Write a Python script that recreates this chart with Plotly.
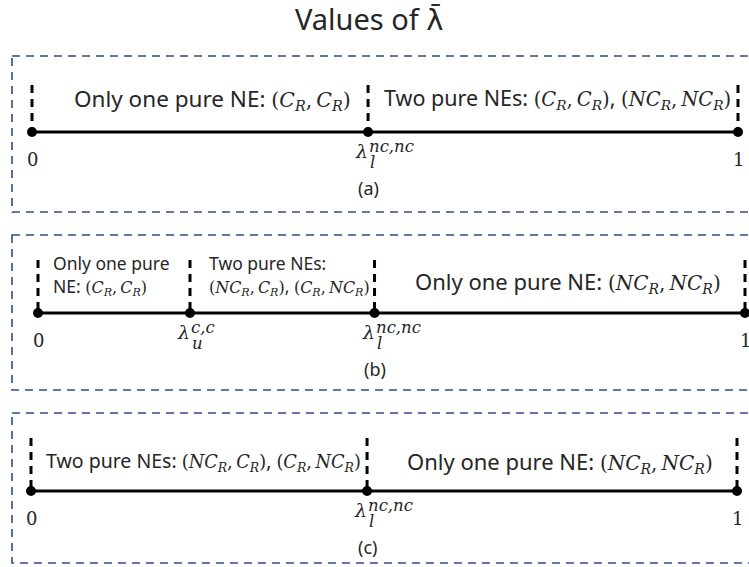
import plotly.graph_objects as go

W, H = 749, 567

# ---------------------------------------------------------------- data
# thresholds of lambda-bar on the unit interval
LAMBDA_U_CC = 0.215
LAMBDA_L_NCNC = 0.476

breaks_a = [0.0, LAMBDA_L_NCNC, 1.0]
breaks_b = [0.0, LAMBDA_U_CC, LAMBDA_L_NCNC, 1.0]
breaks_c = [0.0, LAMBDA_L_NCNC, 1.0]

# tick labels: (symbol, subscript, superscript)
ticks_a = [("0", "", ""), ("λ", "l", "nc,nc"), ("1", "", "")]
ticks_b = [("0", "", ""), ("λ", "u", "c,c"), ("λ", "l", "nc,nc"), ("1", "", "")]
ticks_c = [("0", "", ""), ("λ", "l", "nc,nc"), ("1", "", "")]

panel_tags = ["(a)", "(b)", "(c)"]

MATH = "DejaVu Serif"
SANS = "Noto Sans"

title_text = ("Values of <span style='font-family:DejaVu Sans'>λ\u0304</span>")


def strat(s):
    return f"<i>{s}</i><sub><i>R</i></sub>"


def profile(p, q):
    return (f"<span style='font-family:{MATH};font-size:91%'>"
            f"({strat(p)},\u2009{strat(q)})</span>")


regions_a = [
    "Only one pure NE: " + profile("C", "C"),
    "Two pure NEs: " + profile("C", "C") + ", " + profile("NC", "NC"),
]
regions_b = [
    "Only one pure<br>NE: " + profile("C", "C"),
    "Two pure NEs:<br>" + profile("NC", "C") + ", " + profile("C", "NC"),
    "Only one pure NE: " + profile("NC", "NC"),
]
regions_c = [
    "Two pure NEs: " + profile("NC", "C") + ", " + profile("C", "NC"),
    "Only one pure NE: " + profile("NC", "NC"),
]

# ---------------------------------------------------------------- layout
panels = [
    dict(breaks=breaks_a, ticks=ticks_a, regions=regions_a, tag=panel_tags[0],
         px=(32, 738), line_y=132, seg_top=85, box=(56, 212),
         text_dy=-34, text_size=21.5,
         text_style=[dict(xshift=12, size=22.5), dict(xshift=4)]),
    dict(breaks=breaks_b, ticks=ticks_b, regions=regions_b, tag=panel_tags[1],
         px=(38, 745), line_y=313, seg_top=260, box=(235, 390),
         text_dy=-38, text_size=17.5,
         text_style=[dict(anchor="left", xshift=13),
                     dict(anchor="left", xshift=17),
                     dict(xshift=8, size=22, dy=-32)]),
    dict(breaks=breaks_c, ticks=ticks_c, regions=regions_c, tag=panel_tags[2],
         px=(31, 737), line_y=491, seg_top=438, box=(413, 563),
         text_dy=-30, text_size=20,
         text_style=[dict(xshift=4, size=19.5), dict(xshift=8, size=22)]),
]

PAD = 12  # px of room around the 0..1 interval so end marks are not clipped
BOX_COLOR = "#2f4c8a"
TEXT_COLOR = "#262626"

fig = go.Figure()
annotations = []
shapes = []
layout_axes = {}

for i, p in enumerate(panels):
    xa = "x" if i == 0 else f"x{i + 1}"
    key = "xaxis" if i == 0 else f"xaxis{i + 1}"
    span = p["px"][1] - p["px"][0]
    lp = min(PAD, p["px"][0])
    rp = min(PAD, W - p["px"][1])
    layout_axes[key] = dict(
        range=[-lp / span, 1 + rp / span], visible=False, fixedrange=True,
        anchor="y", domain=[(p["px"][0] - lp) / W, (p["px"][1] + rp) / W])

    br = p["breaks"]
    ly = p["line_y"]

    # main axis line
    fig.add_trace(go.Scatter(
        x=[br[0], br[-1]], y=[ly, ly], mode="lines",
        line=dict(color="black", width=3), xaxis=xa, yaxis="y",
        hoverinfo="skip"))

    # dashed separators at each breakpoint
    xs, ys = [], []
    for b in br:
        xs += [b, b, None]
        ys += [p["seg_top"], ly, None]
    fig.add_trace(go.Scatter(
        x=xs, y=ys, mode="lines",
        line=dict(color="black", width=3, dash="8px,6px"),
        xaxis=xa, yaxis="y", hoverinfo="skip"))

    # breakpoint dots
    fig.add_trace(go.Scatter(
        x=br, y=[ly] * len(br), mode="markers",
        marker=dict(color="black", size=10), xaxis=xa, yaxis="y",
        hoverinfo="skip", cliponaxis=False))

    # tick labels
    for b, (sym, sub, sup) in zip(br, p["ticks"]):
        if not sub:
            annotations.append(dict(
                x=b, y=ly + 27, xref=xa, yref="y", text=sym, showarrow=False,
                xanchor="center", yanchor="middle",
                font=dict(family=MATH, size=18, color=TEXT_COLOR)))
        else:
            annotations.append(dict(
                x=b, y=ly + 19, xref=xa, yref="y", text=f"<i>{sym}</i>",
                showarrow=False, xanchor="right", yanchor="middle", xshift=2,
                font=dict(family=MATH, size=19, color=TEXT_COLOR)))
            annotations.append(dict(
                x=b, y=ly + 14, xref=xa, yref="y", text=f"<i>{sup}</i>",
                showarrow=False, xanchor="left", yanchor="middle", xshift=-1,
                font=dict(family=MATH, size=16.5, color=TEXT_COLOR)))
            annotations.append(dict(
                x=b, y=ly + 30, xref=xa, yref="y", text=f"<i>{sub}</i>",
                showarrow=False, xanchor="left", yanchor="middle", xshift=0,
                font=dict(family=MATH, size=16.5, color=TEXT_COLOR)))

    # region descriptions
    for k, txt in enumerate(p["regions"]):
        st = p["text_style"][k]
        lo, hi = br[k], br[k + 1]
        anchor = st.get("anchor", "center")
        xpos = lo if anchor == "left" else (lo + hi) / 2
        annotations.append(dict(
            x=xpos, y=ly + st.get("dy", p["text_dy"]), xref=xa, yref="y",
            text=txt, showarrow=False, xanchor=anchor, yanchor="middle",
            align="left", xshift=st.get("xshift", 0),
            font=dict(family=SANS, size=st.get("size", p["text_size"]),
                      color=TEXT_COLOR)))

    # panel tag
    annotations.append(dict(
        x=LAMBDA_L_NCNC, y=ly + 56, xref=xa, yref="y", text=p["tag"],
        showarrow=False, xanchor="center", yanchor="middle",
        font=dict(family=SANS, size=18, color=TEXT_COLOR)))

    # dashed frame, running off the right edge
    shapes.append(dict(
        type="rect", xref="paper", yref="y",
        x0=12 / W, x1=1.02, y0=p["box"][0], y1=p["box"][1],
        line=dict(color=BOX_COLOR, width=1.6, dash="8px,6px"),
        fillcolor="rgba(0,0,0,0)", layer="below"))

# title
annotations.append(dict(
    x=446 / W, y=18, xref="paper", yref="y", text=title_text, showarrow=False,
    xanchor="right", yanchor="middle",
    font=dict(family=SANS, size=29, color=TEXT_COLOR)))

fig.update_layout(
    width=W, height=H,
    margin=dict(l=0, r=0, t=0, b=0),
    paper_bgcolor="white", plot_bgcolor="rgba(0,0,0,0)",
    showlegend=False,
    yaxis=dict(range=[H, 0], domain=[0, 1], visible=False, fixedrange=True),
    annotations=annotations, shapes=shapes,
    **layout_axes,
)

fig.write_html("out.html", config=dict(displayModeBar=False))
